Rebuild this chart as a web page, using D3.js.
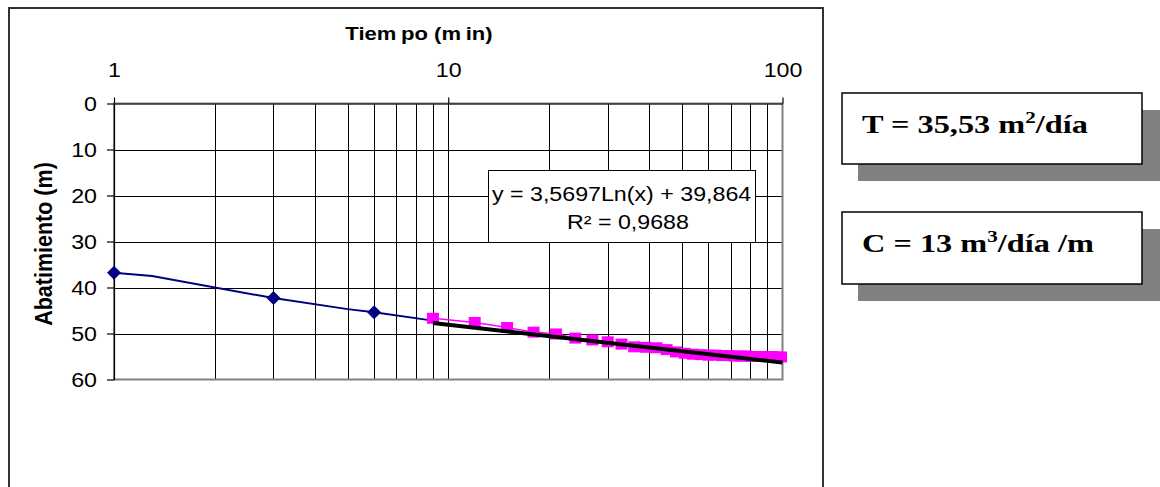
<!DOCTYPE html>
<html><head><meta charset="utf-8">
<script src="https://cdn.jsdelivr.net/npm/d3@7"></script>
<style>body{margin:0;background:#fff;} svg{display:block;}</style>
</head><body><svg id="c" width="1160" height="487"></svg>
<script>
// ---- data ----
const xTickValues = [1, 10, 100];
const yTickValues = [0, 10, 20, 30, 40, 50, 60];
const xGridValues = [2, 3, 4, 5, 6, 7, 8, 9, 10, 20, 30, 40, 50, 60, 70, 80, 90];
const yGridValues = [10, 20, 30, 40, 50];
const earlyTime = [1, 1.3, 3, 5, 6, 9];
const earlyDrawdown = [36.8, 37.5, 42.3, 44.7, 45.4, 47.2];
const markerTime = [1, 3, 6];
const markerDrawdown = [36.8, 42.3, 45.4];
const lateTime = [9, 12, 15, 18, 21, 24, 27, 30, 33, 36, 39, 42, 45, 48, 51, 54, 57, 60, 63, 66, 69, 72, 75, 78, 81, 84, 87, 90, 93, 96, 99];
const lateDrawdown = [46.7, 47.6, 48.7, 49.7, 50.1, 51.0, 51.4, 51.8, 52.3, 52.9, 53.0, 53.1, 53.5, 54.0, 54.3, 54.5, 54.6, 54.7, 54.7, 54.8, 54.8, 54.9, 54.9, 54.9, 55.0, 55.0, 55.0, 55.0, 55.0, 55.1, 55.1];
const trendA = 3.5697, trendB = 39.864;   // from the displayed equation
const trendRange = [9, 100];
const yTitle = "Abatimiento (m)";
const eqText = "y = 3,5697Ln(x) + 39,864";
const r2Text = "R² = 0,9688";

// ---- drawing ----
const svg = d3.select("#c");
const SX = 1.19;
const FONT = "Arial, 'Liberation Sans', sans-serif";
const x = d3.scaleLog().domain([1, 100]).range([114, 782.5]);
const y = d3.scaleLinear().domain([0, 60]).range([103.5, 379.5]);
const px = v => Math.round(x(v)) + 0.5;
const py = v => Math.round(y(v)) + 0.5;

// outer chart frame
svg.append("rect").attr("x", 9).attr("y", 8).attr("width", 814).attr("height", 520)
  .attr("fill", "#fff").attr("stroke", "#333").attr("stroke-width", 2);

// gridlines
const grid = svg.append("g").attr("stroke", "#000").attr("stroke-width", 1).attr("shape-rendering", "crispEdges");
grid.selectAll("line.v").data(xGridValues).join("line").attr("class", "v")
  .attr("x1", d => px(d)).attr("x2", d => px(d)).attr("y1", y(0)).attr("y2", y(60));
grid.selectAll("line.h").data(yGridValues).join("line").attr("class", "h")
  .attr("x1", x(1)).attr("x2", x(100)).attr("y1", d => py(d)).attr("y2", d => py(d));

// plot border
svg.append("rect").attr("x", x(1)).attr("y", y(0)).attr("width", x(100) - x(1)).attr("height", y(60) - y(0))
  .attr("fill", "none").attr("stroke", "#808080").attr("stroke-width", 2);

// axes
const xAxis = svg.append("g").attr("transform", `translate(0,${y(0)})`)
  .call(d3.axisTop(x).tickValues(xTickValues).tickFormat(d3.format("d")).tickSize(6).tickSizeOuter(0));
const yAxis = svg.append("g").attr("transform", `translate(${x(1)},0)`)
  .call(d3.axisLeft(y).tickValues(yTickValues).tickSize(7).tickSizeOuter(0));
[xAxis, yAxis].forEach(a => {
  a.select(".domain").attr("stroke", "#000").attr("stroke-width", 1.2);
  a.selectAll(".tick line").attr("stroke", "#000").attr("stroke-width", 1.2);
  a.selectAll(".tick text").attr("fill", "#000").style("font-family", FONT)
    .style("font-size", "19.5px").attr("transform", `scale(${SX},1)`);
});
xAxis.selectAll(".tick text").attr("y", -26.5).attr("dy", "0");
yAxis.selectAll(".tick text").attr("x", -17 / SX).attr("dy", "0.36em");

// titles
const tt = svg.append("text").attr("transform", `translate(419,40) scale(${SX},1)`)
  .attr("text-anchor", "middle").style("font-family", FONT)
  .style("font-size", "18.5px").style("font-weight", "bold");
tt.append("tspan").text("Tiem");
tt.append("tspan").attr("dx", 4).text("po (m");
tt.append("tspan").attr("dx", 4).text("in)");
svg.append("text").attr("transform", `translate(52,244) scale(1.1,1) rotate(-90)`)
  .attr("text-anchor", "middle").style("font-family", FONT)
  .style("font-size", "21.5px").style("font-weight", "bold").text(yTitle);

// early series (navy)
const line = d3.line().x(d => x(d[0])).y(d => y(d[1]));
svg.append("path").datum(earlyTime.map((t, i) => [t, earlyDrawdown[i]]))
  .attr("d", line).attr("fill", "none").attr("stroke", "#000080").attr("stroke-width", 2);
svg.selectAll("path.dia").data(markerTime.map((t, i) => [t, markerDrawdown[i]])).join("path")
  .attr("class", "dia")
  .attr("d", d => `M${x(d[0])},${y(d[1]) - 7}L${x(d[0]) + 7},${y(d[1])}L${x(d[0])},${y(d[1]) + 7}L${x(d[0]) - 7},${y(d[1])}Z`)
  .attr("fill", "#000080");

// late series (magenta)
const late = lateTime.map((t, i) => [t, lateDrawdown[i]]);
svg.append("path").datum(late).attr("d", line).attr("fill", "none").attr("stroke", "#FF00FF").attr("stroke-width", 1.5);
svg.selectAll("rect.sq").data(late).join("rect").attr("class", "sq")
  .attr("x", d => x(d[0]) - 6).attr("y", d => y(d[1]) - 5.5).attr("width", 12).attr("height", 11)
  .attr("fill", "#FF00FF");

// logarithmic trendline (straight on log axis)
const trend = trendRange.map(t => [t, trendA * Math.log(t) + trendB]);
svg.append("path").datum(trend).attr("d", line).attr("fill", "none").attr("stroke", "#000").attr("stroke-width", 4);

// equation label
svg.append("rect").attr("x", 488.5).attr("y", 170.5).attr("width", 267).attr("height", 72)
  .attr("fill", "#fff").attr("stroke", "#000").attr("stroke-width", 1);
svg.append("text").attr("transform", `translate(492,201) scale(${SX},1)`)
  .style("font-family", FONT).style("font-size", "19.5px").text(eqText);
svg.append("text").attr("transform", `translate(567,229) scale(${SX},1)`)
  .style("font-family", FONT).style("font-size", "19.5px").text(r2Text);

// side boxes
function sideBox(top, h, parts) {
  svg.append("rect").attr("x", 858).attr("y", top + 17).attr("width", 302).attr("height", h).attr("fill", "#808080");
  svg.append("rect").attr("x", 842).attr("y", top).attr("width", 300).attr("height", h)
    .attr("fill", "#fff").attr("stroke", "#000").attr("stroke-width", 1.5);
  const t = svg.append("text").attr("transform", `translate(862,${top + 40}) scale(1.32,1)`)
    .style("font-family", "'Liberation Serif', 'Times New Roman', serif").style("font-size", "24.5px").style("font-weight", "bold");
  parts.forEach(p => {
    const s = t.append("tspan").text(p.t);
    if (p.sup) s.attr("dy", -10).style("font-size", "16px");
    if (p.down) s.attr("dy", 10);
  });
}
sideBox(93, 71, [{t: "T = 35,53 m"}, {t: "2", sup: true}, {t: "/día", down: true}]);
sideBox(212, 72, [{t: "C = 13 m"}, {t: "3", sup: true}, {t: "/día /m", down: true}]);
</script></body></html>
